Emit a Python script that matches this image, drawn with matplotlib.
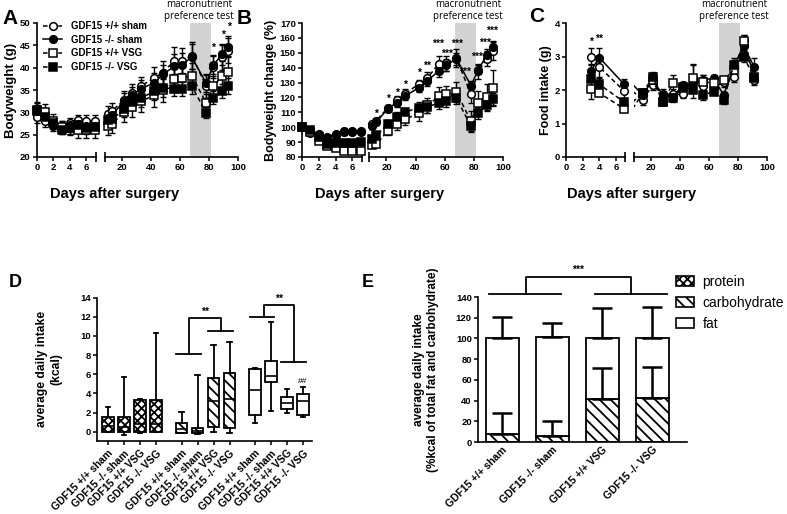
import matplotlib
matplotlib.use('Agg')
import matplotlib.pyplot as plt
import numpy as np
from matplotlib.transforms import blended_transform_factory as btf
from matplotlib.patches import Patch

plt.rcParams['font.family'] = ['Liberation Sans', 'DejaVu Sans']
plt.rcParams['font.weight'] = 'bold'
plt.rcParams['hatch.linewidth'] = 1.3
plt.rcParams['axes.linewidth'] = 1.2

groups = ['GDF15 +/+ sham', 'GDF15 -/- sham', 'GDF15 +/+ VSG', 'GDF15 -/- VSG']

# ---------------- Panel A: bodyweight (g) ----------------
A_days_early = [0, 1, 2, 3, 4, 5, 6, 7]
A_days_late = [10, 13, 21, 27, 33, 42, 48, 56, 61, 68, 78, 83, 89, 93]
A_wt_sham_early = [29.0, 28.0, 27.4, 27.0, 27.7, 28.2, 28.1, 28.1]
A_ko_sham_early = [30.3, 29.3, 26.9, 26.0, 27.2, 27.4, 27.0, 27.0]
A_wt_vsg_early = [30.6, 30.1, 28.1, 26.8, 26.5, 26.0, 26.0, 26.0]
A_ko_vsg_early = [30.2, 29.0, 27.5, 26.1, 26.4, 27.2, 26.5, 26.8]
A_wt_sham_late = [29.7, 30.3, 32.8, 34.4, 35.9, 37.7, 38.9, 41.6, 41.6, 42.7, 35.8, 40.2, 42.3, 43.8]
A_ko_sham_late = [28.7, 29.3, 32.6, 33.9, 35.3, 36.6, 38.5, 40.3, 40.6, 42.4, 36.5, 40.6, 43.0, 44.7]
A_wt_vsg_late = [27.0, 27.4, 30.0, 31.2, 32.5, 33.8, 35.0, 37.4, 37.7, 38.2, 32.1, 35.9, 38.1, 39.1]
A_ko_vsg_late = [28.3, 28.4, 30.7, 32.3, 33.2, 34.7, 35.5, 35.3, 35.3, 35.9, 29.9, 33.3, 34.8, 35.9]
A_wt_sham_err_early = [1.5, 1.2, 1.0, 1.0, 1.0, 1.2, 1.3, 1.2]
A_ko_sham_err_early = [1.8, 1.2, 1.0, 0.8, 1.0, 1.0, 1.0, 1.0]
A_wt_vsg_err_early = [1.8, 1.8, 1.5, 1.3, 1.6, 1.8, 1.8, 1.8]
A_ko_vsg_err_early = [1.5, 1.3, 1.2, 1.0, 1.3, 1.5, 1.4, 1.5]
A_wt_sham_err_late = [1.8, 1.8, 2.0, 2.0, 2.0, 2.5, 2.5, 3.0, 2.8, 3.0, 2.5, 2.6, 2.8, 2.8]
A_ko_sham_err_late = [1.5, 1.5, 1.8, 1.8, 2.0, 2.3, 2.2, 2.8, 2.6, 2.8, 2.0, 2.0, 2.3, 2.4]
A_wt_vsg_err_late = [2.0, 2.0, 2.2, 2.2, 2.5, 2.5, 2.6, 2.8, 2.8, 2.8, 2.0, 2.3, 3.3, 3.5]
A_ko_vsg_err_late = [1.5, 1.5, 1.8, 1.8, 2.0, 2.0, 2.0, 1.6, 1.6, 1.8, 1.2, 1.5, 1.6, 1.8]
A_star_days = [83, 89.5, 93.5]
A_star_y = [44.4, 47.4, 49.2]
A_star_txt = ['*', '*', '*']

# ---------------- Panel B: bodyweight change (%) ----------------
B_days_early = [0, 1, 2, 3, 4, 5, 6, 7]
B_days_late = [10, 13, 21, 27, 33, 42, 48, 56, 61, 68, 78, 83, 89, 93]
B_wt_sham_early = [100, 96.2, 94.6, 93.4, 95.6, 97.6, 97.4, 97.2]
B_ko_sham_early = [100, 98.3, 95.3, 93.0, 95.0, 97.0, 97.0, 96.8]
B_wt_vsg_early = [100, 96.5, 91.0, 87.3, 86.2, 84.3, 83.8, 84.2]
B_ko_vsg_early = [100, 98.0, 93.5, 88.5, 89.2, 89.3, 89.2, 90.0]
B_wt_sham_late = [101.9, 104.4, 113.1, 118.0, 122.5, 129.0, 133.0, 142.7, 143.0, 146.5, 122.0, 137.5, 146.0, 151.2]
B_ko_sham_late = [100.5, 103.5, 112.5, 116.5, 121.0, 126.5, 131.0, 138.0, 141.5, 146.0, 128.0, 138.5, 148.7, 153.9]
B_wt_vsg_late = [87.8, 88.5, 97.5, 102.0, 105.3, 109.5, 114.7, 120.7, 122.0, 123.7, 104.0, 116.5, 120.3, 126.3]
B_ko_vsg_late = [92.3, 94.5, 101.9, 106.9, 110.2, 113.1, 113.5, 116.5, 117.4, 119.6, 100.6, 109.8, 115.2, 119.2]
B_wt_sham_err_early = [0.0, 1.0, 1.0, 1.0, 1.0, 1.0, 1.0, 1.0]
B_ko_sham_err_early = [0.0, 1.0, 1.0, 1.0, 1.0, 1.0, 1.0, 1.0]
B_wt_vsg_err_early = [0.0, 1.0, 1.0, 1.2, 1.2, 1.2, 1.2, 1.2]
B_ko_vsg_err_early = [0.0, 1.0, 1.0, 1.0, 1.0, 1.0, 1.0, 1.0]
B_wt_sham_err_late = [2, 2, 2, 3, 3, 3, 4, 5, 5, 6, 6, 5, 5, 6]
B_ko_sham_err_late = [2, 2, 2, 3, 3, 3, 3, 4, 4, 4, 3, 3, 4, 4]
B_wt_vsg_err_late = [2, 2, 3, 4, 4, 5, 5, 6, 6, 7, 7, 8, 9, 12]
B_ko_vsg_err_late = [2, 2, 3, 3, 3, 4, 4, 4, 4, 4, 3, 4, 4, 4]
B_star_days = [13, 21, 27, 33, 42, 48, 55.5, 61.5, 68.5, 74, 82.5, 87.5, 92.5]
B_star_y = [109, 119, 123, 128.5, 136.5, 141.5, 156, 149.5, 156, 137.5, 147.5, 157, 165]
B_star_txt = ['*', '*', '*', '*', '*', '**', '***', '***', '***', '***', '***', '***', '***']

# ---------------- Panel C: food intake (g) ----------------
C_days_early = [3, 4, 7]
C_days_late = [14, 21, 28, 35, 42, 49, 56, 63, 70, 77, 84, 91]
C_wt_sham_early = [3.00, 2.69, 1.97]
C_ko_sham_early = [2.57, 2.97, 2.17]
C_wt_vsg_early = [2.04, 1.91, 1.44]
C_ko_vsg_early = [2.34, 2.17, 1.64]
C_wt_sham_late = [1.69, 2.16, 1.87, 1.87, 1.87, 2.36, 2.12, 2.07, 2.24, 2.39, 3.50, 2.29]
C_ko_sham_late = [1.85, 2.30, 1.85, 1.80, 2.15, 2.20, 2.30, 2.35, 1.85, 2.70, 3.30, 2.70]
C_wt_vsg_late = [1.90, 2.30, 1.65, 2.20, 2.05, 2.35, 2.25, 2.20, 2.30, 2.60, 3.45, 2.40]
C_ko_vsg_late = [1.90, 2.40, 1.65, 1.75, 2.10, 2.00, 1.85, 1.95, 1.70, 2.75, 3.00, 2.35]
C_wt_sham_err_early = [0.25, 0.30, 0.20]
C_ko_sham_err_early = [0.20, 0.28, 0.15]
C_wt_vsg_err_early = [0.30, 0.10, 0.08]
C_ko_vsg_err_early = [0.25, 0.20, 0.10]
C_wt_sham_err_late = [0.15, 0.15, 0.15, 0.15, 0.12, 0.40, 0.15, 0.12, 0.15, 0.15, 0.15, 0.15]
C_ko_sham_err_late = [0.10, 0.20, 0.10, 0.10, 0.10, 0.15, 0.15, 0.10, 0.10, 0.20, 0.20, 0.25]
C_wt_vsg_err_late = [0.10, 0.20, 0.10, 0.25, 0.15, 0.43, 0.20, 0.15, 0.12, 0.15, 0.20, 0.20]
C_ko_vsg_err_late = [0.10, 0.15, 0.10, 0.10, 0.15, 0.25, 0.15, 0.10, 0.12, 0.20, 0.15, 0.15]
C_star_days = [3, 4]
C_star_y = [3.43, 3.53]
C_star_txt = ['*', '**']

# ---------------- Panel D: box plots (kcal) ----------------
D_min = [0.0, -0.3, -0.1, 0.0, -0.1, -0.2, 0.0, -0.1, 0.9, 2.2, 1.9, 1.5]
D_q1 = [0.0, 0.0, 0.0, 0.0, -0.1, -0.1, 0.5, 0.4, 1.7, 5.2, 2.4, 1.7]
D_med = [0.6, 0.5, 0.8, 0.8, 0.3, 0.1, 3.2, 3.4, 4.4, 5.8, 3.0, 3.2]
D_q3 = [1.5, 1.5, 3.3, 3.3, 0.9, 0.4, 5.6, 6.1, 6.5, 7.4, 3.6, 3.9]
D_max = [2.6, 5.7, 3.4, 10.3, 2.1, 5.9, 9.0, 9.4, 6.6, 11.4, 4.5, 4.7]
D_nutrient = ['protein'] * 4 + ['carbohydrate'] * 4 + ['fat'] * 4

# ---------------- Panel E: stacked bars (% kcal) ----------------
E_protein = [0.0, 0.0, 0.0, 0.0]
E_carb = [7.5, 5.5, 42.0, 42.5]
E_carb_err = [20.5, 15.0, 29.0, 30.0]
E_fat = [92.5, 95.5, 58.0, 57.5]
E_fat_err = [20.5, 13.5, 29.0, 30.0]

hatches = {'protein': 'xxxx', 'carbohydrate': '\\\\\\', 'fat': ''}

W, H = 787, 514
fig = plt.figure(figsize=(W / 100, H / 100), dpi=100)


def ax_px(x0, x1, ytop, ybot):
    return fig.add_axes([x0 / W, 1 - ybot / H, (x1 - x0) / W, (ybot - ytop) / H])


styles = [
    dict(marker='o', mfc='white', ls=(0, (3, 2))),   # +/+ sham
    dict(marker='o', mfc='black', ls='-'),           # -/- sham
    dict(marker='s', mfc='white', ls=(0, (3, 2))),   # +/+ VSG
    dict(marker='s', mfc='black', ls=(0, (3, 2))),   # -/- VSG
]
draw_order = [3, 2, 1, 0]


def style_axes(axL, axR, ylim, yticks, ylabel, ylabelsize, text_x):
    for ax in (axL, axR):
        ax.set_ylim(*ylim)
        ax.spines['top'].set_visible(False)
        ax.spines['right'].set_visible(False)
        ax.tick_params(direction='out', length=3, width=1.1, labelsize=6.8, pad=1.5)
    axR.spines['left'].set_visible(False)
    axR.tick_params(axis='y', left=False, labelleft=False)
    axL.set_xlim(0, 7.1)
    axR.set_xlim(8, 100)
    axL.set_xticks([0, 2, 4, 6])
    axR.set_xticks([20, 40, 60, 80, 100])
    axL.set_yticks(yticks)
    axL.set_ylabel(ylabel, fontsize=ylabelsize, fontweight='bold', labelpad=2)
    for ax, xa in ((axL, 1), (axR, 0)):
        ax.plot([xa], [0], marker='|', ms=7, mew=1.2, color='k',
                transform=ax.transAxes, clip_on=False)
    axR.axvspan(67, 81.5, color='#d3d3d3', lw=0, zorder=0)
    axR.text(text_x, 1.005, 'macronutrient\npreference test', transform=btf(axR.transData, axR.transAxes),
             ha='center', va='bottom', fontsize=7, fontweight='normal', family='Open Sans',
             linespacing=1.12)


def draw_series(axL, axR, d_early, d_late, early, late, err_early, err_late, bridge=False):
    handles = [None] * 4
    for i in draw_order:
        st = styles[i]
        for ax, d, m, e in ((axL, d_early, early[i], err_early[i]), (axR, d_late, late[i], err_late[i])):
            cont = ax.errorbar(d, m, yerr=e, fmt='none', ecolor='k', elinewidth=1.0,
                               capsize=2.2, capthick=1.0, zorder=2)
            for art in list(cont.lines[1]) + list(cont.lines[2]):
                art.set_clip_on(False)
            ln, = ax.plot(d, m, color='k', lw=1.1, ls=st['ls'], marker=st['marker'], ms=5.5,
                          mfc=st['mfc'], mec='k', mew=1.1, zorder=3 + (3 - draw_order.index(i)),
                          clip_on=False)
            handles[i] = ln
        if bridge:
            axR.plot([d_early[-1], d_late[0]], [early[i][-1], late[i][0]], color='k', lw=1.1,
                     ls=st['ls'], zorder=3)
    return handles


def stars(ax, days, ys, txts):
    for x, y, t in zip(days, ys, txts):
        ax.text(x, y, t, ha='center', va='center', fontsize=7.5, fontweight='bold', clip_on=False)


# ---- Panel A ----
aL = ax_px(37, 95.5, 23, 157)
aR = ax_px(105, 238, 23, 157)
style_axes(aL, aR, (20, 50), [20, 25, 30, 35, 40, 45, 50], 'Bodyweight (g)', 9.5, 73)
hA = draw_series(aL, aR, A_days_early, A_days_late,
                 [A_wt_sham_early, A_ko_sham_early, A_wt_vsg_early, A_ko_vsg_early],
                 [A_wt_sham_late, A_ko_sham_late, A_wt_vsg_late, A_ko_vsg_late],
                 [A_wt_sham_err_early, A_ko_sham_err_early, A_wt_vsg_err_early, A_ko_vsg_err_early],
                 [A_wt_sham_err_late, A_ko_sham_err_late, A_wt_vsg_err_late, A_ko_vsg_err_late])
stars(aR, A_star_days, A_star_y, A_star_txt)
fig.legend(hA, groups, loc='upper left', bbox_to_anchor=(43 / W, 1 - 21 / H), frameon=False,
           fontsize=7, handlelength=2.0, labelspacing=0.38, handletextpad=0.9, borderaxespad=0,
           borderpad=0)

# ---- Panel B ----
bL = ax_px(302, 361.5, 23, 157)
bR = ax_px(369, 503, 23, 157)
style_axes(bL, bR, (80, 170), list(range(80, 171, 10)), 'Bodyweight change (%)', 9, 76)
draw_series(bL, bR, B_days_early, B_days_late,
            [B_wt_sham_early, B_ko_sham_early, B_wt_vsg_early, B_ko_vsg_early],
            [B_wt_sham_late, B_ko_sham_late, B_wt_vsg_late, B_ko_vsg_late],
            [B_wt_sham_err_early, B_ko_sham_err_early, B_wt_vsg_err_early, B_ko_vsg_err_early],
            [B_wt_sham_err_late, B_ko_sham_err_late, B_wt_vsg_err_late, B_ko_vsg_err_late])
stars(bR, B_star_days, B_star_y, B_star_txt)

# ---- Panel C ----
cL = ax_px(566, 625, 23, 157)
cR = ax_px(634, 767, 23, 157)
style_axes(cL, cR, (0, 4), [0, 1, 2, 3, 4], 'Food intake (g)', 9, 77)
draw_series(cL, cR, C_days_early, C_days_late,
            [C_wt_sham_early, C_ko_sham_early, C_wt_vsg_early, C_ko_vsg_early],
            [C_wt_sham_late, C_ko_sham_late, C_wt_vsg_late, C_ko_vsg_late],
            [C_wt_sham_err_early, C_ko_sham_err_early, C_wt_vsg_err_early, C_ko_vsg_err_early],
            [C_wt_sham_err_late, C_ko_sham_err_late, C_wt_vsg_err_late, C_ko_vsg_err_late],
            bridge=True)
stars(cL, C_star_days, C_star_y, C_star_txt)

for xc in (115, 380, 632):
    fig.text(xc / W, 1 - 194 / H, 'Days after surgery', ha='center', va='center', fontsize=10.5,
             fontweight='bold')

# ---- Panel D ----
axD = ax_px(97, 312, 297.5, 441.3)
D_pos = [1, 2, 3, 4, 5.6, 6.6, 7.6, 8.6, 10.2, 11.2, 12.2, 13.2]
stats = [dict(whislo=a, q1=b, med=c, q3=d, whishi=e, fliers=[])
         for a, b, c, d, e in zip(D_min, D_q1, D_med, D_q3, D_max)]
bp = axD.bxp(stats, positions=D_pos, widths=0.7, patch_artist=True, showfliers=False,
             capwidths=0.28,
             boxprops=dict(facecolor='white', edgecolor='k', linewidth=1.3),
             medianprops=dict(color='k', linewidth=1.2),
             whiskerprops=dict(color='k', linewidth=1.3),
             capprops=dict(color='k', linewidth=1.3))
for box, nut in zip(bp['boxes'], D_nutrient):
    box.set_hatch(hatches[nut])
axD.set_xlim(0.31, 13.76)
axD.set_ylim(-1, 14)
axD.set_yticks(range(0, 15, 2))
axD.set_xticks(D_pos)
axD.set_xticklabels(groups * 3, rotation=45, ha='right', rotation_mode='anchor', fontsize=7.5)
axD.spines['top'].set_visible(False)
axD.spines['right'].set_visible(False)
axD.tick_params(direction='out', length=3, width=1.1, labelsize=6.8, pad=1.5)
axD.tick_params(axis='x', labelsize=7.5, pad=2)
axD.set_ylabel('average daily intake\n(kcal)', fontsize=8.7, fontweight='bold', labelpad=13)
lk = dict(color='k', lw=1.3, clip_on=False)
axD.plot([5.25, 6.8], [8.1, 8.1], **lk)
axD.plot([7.25, 8.8], [10.5, 10.5], **lk)
axD.plot([6.05, 6.05, 8.05, 8.05], [8.1, 11.85, 11.85, 10.5], **lk)
axD.text(7.05, 12.5, '**', ha='center', va='center', fontsize=7.5)
axD.plot([9.9, 11.4], [12.0, 12.0], **lk)
axD.plot([11.8, 13.4], [7.25, 7.25], **lk)
axD.plot([10.75, 10.75, 12.65, 12.65], [12.0, 13.2, 13.2, 7.25], **lk)
axD.text(11.7, 13.85, '**', ha='center', va='center', fontsize=7.5)
axD.text(13.2, 5.25, '##', ha='center', va='center', fontsize=6, fontweight='normal')

# ---- Panel E ----
axE = ax_px(478, 687, 297, 442)
E_pos = np.arange(len(groups))
E_protein_a = np.array(E_protein)
E_carb_a = np.array(E_carb)
E_fat_a = np.array(E_fat)
bw = 0.66
axE.bar(E_pos, E_protein_a, bw, color='white', edgecolor='k', hatch=hatches['protein'], lw=1.3)
axE.bar(E_pos, E_carb_a, bw, bottom=E_protein_a, color='white', edgecolor='k',
        hatch=hatches['carbohydrate'], lw=1.3)
axE.bar(E_pos, E_fat_a, bw, bottom=E_protein_a + E_carb_a, color='white', edgecolor='k', lw=1.3)
top_c = E_protein_a + E_carb_a
top_f = top_c + E_fat_a
axE.errorbar(E_pos, top_c, yerr=[np.zeros(4), E_carb_err], fmt='none', ecolor='k', elinewidth=1.8,
             capsize=7, capthick=1.8, zorder=3)
axE.errorbar(E_pos, top_f, yerr=[np.zeros(4), E_fat_err], fmt='none', ecolor='k', elinewidth=1.8,
             capsize=7, capthick=1.8, zorder=3)
axE.set_xlim(-0.48, 3.7)
axE.set_ylim(0, 140)
axE.set_yticks(range(0, 141, 20))
axE.set_xticks(E_pos)
axE.set_xticklabels(groups, rotation=45, ha='right', rotation_mode='anchor', fontsize=7.5)
axE.spines['top'].set_visible(False)
axE.spines['right'].set_visible(False)
axE.tick_params(direction='out', length=3, width=1.1, labelsize=6.8, pad=1.5)
axE.tick_params(axis='x', labelsize=7.5, pad=2, length=0)
axE.set_ylabel('average daily intake\n(%kcal of total fat and carbohydrate)', fontsize=8.5,
               fontweight='bold', labelpad=12)
axE.plot([-0.26, 1.18], [143, 143], **lk)
axE.plot([1.86, 3.3], [143, 143], **lk)
axE.plot([0.47, 0.47, 2.57, 2.57], [143, 159, 159, 143], **lk)
axE.text(1.52, 166, '***', ha='center', va='center', fontsize=7.5)
leg_h = [Patch(facecolor='white', edgecolor='k', hatch=hatches[k], lw=1.2)
         for k in ('protein', 'carbohydrate', 'fat')]
fig.legend(leg_h, ['protein', 'carbohydrate', 'fat'], loc='upper left',
           bbox_to_anchor=(676 / W, 1 - 275 / H), frameon=False,
           prop=dict(size=10, weight='normal'), handlelength=1.3, handleheight=0.7,
           labelspacing=0.5, handletextpad=0.6, borderpad=0, borderaxespad=0)

# ---- panel letters ----
for lbl, x, y, s in (('A', 2, 9, 15), ('B', 237, 9, 15), ('C', 529, 7, 15),
                      ('D', 9, 274, 13), ('E', 362, 274, 13)):
    fig.text(x / W, 1 - y / H, lbl, ha='left', va='top', fontsize=s, fontweight='bold')

fig.savefig('out.png', dpi=100)
